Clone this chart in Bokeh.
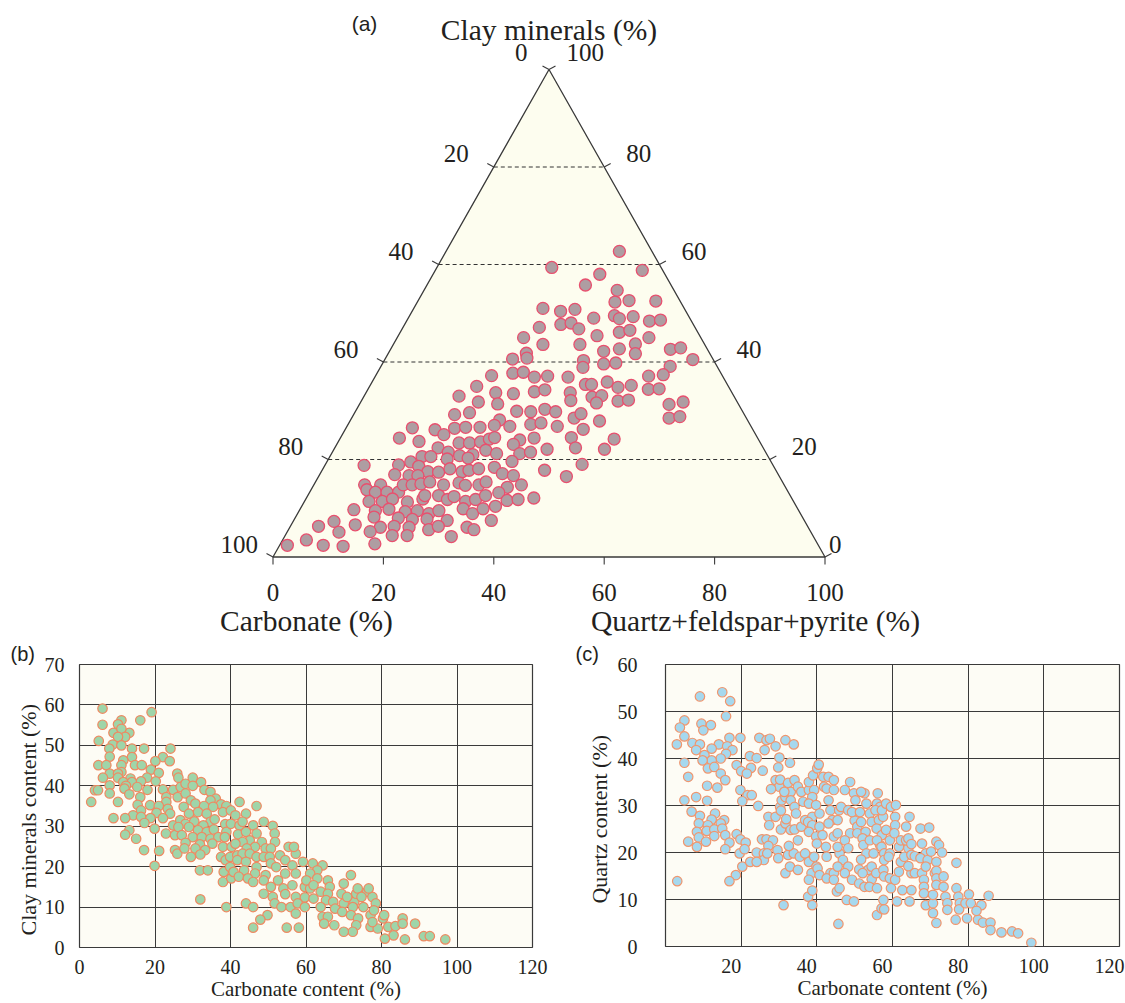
import numpy as np
from bokeh.plotting import figure
from bokeh.models import Range1d, FixedTicker, LinearAxis
from bokeh.layouts import column, row
from bokeh.embed import file_html
from bokeh.resources import INLINE
from bokeh.core.properties import value

SERIF = "Liberation Serif"
SANS = "Liberation Sans"
TXT = "#231f20"
GRID = "#3a3a3a"

# ---------------- (a) ternary data: clay % and quartz+feldspar+pyrite % ----------------
tern_clay_a = [62.7,59.4,58.8,58.0,55.8,54.7,52.3,52.6,52.5,51.0,50.4,50.8,49.0,49.5,48.9,49.3,48.4,48.6,47.1,47.7,
               48.0,46.8,45.4,46.1,46.5,45.0,45.0,43.6,43.6,43.7,41.7,42.7,42.2,41.8,40.8,40.6,40.3,42.6,42.9,40.5,
               39.1,37.4,37.1,39.6,39.8,38.9,37.2,37.7,37.9,36.9,37.1,36.9,35.9,35.4,35.4,35.2,34.8,34.4,34.5,35.0,
               33.7,33.5,33.9,34.3,33.7,32.1,32.8,33.1,31.6,32.0,32.2,31.3,31.8,28.5,28.8,33.0,31.8,31.4,29.2,29.6,
               28.1,29.9,29.8,30.3,29.8,28.5,29.4,27.9]
tern_qfp_a = [31.4,20.8,37.5,30.2,28.7,35.0,35.8,38.2,43.1,23.4,26.9,29.3,33.6,37.1,38.3,40.6,44.0,45.9,24.7,28.3,
              30.0,32.0,36.0,39.7,41.4,45.6,22.9,27.1,33.8,43.8,44.8,41.4,38.8,25.0,25.6,23.1,36.1,50.7,52.4,55.8,
              52.4,52.0,49.5,40.1,42.2,36.7,21.0,24.6,26.4,28.9,31.2,35.0,42.6,38.9,40.0,47.3,45.1,50.8,52.7,19.4,
              23.5,26.8,30.4,32.1,37.0,37.9,41.4,43.0,42.8,46.5,48.3,56.1,58.4,57.5,59.3,17.2,21.3,25.0,18.3,20.8,
              27.0,29.2,31.8,34.1,36.3,40.3,41.1,45.2]
tern_clay_b = [26.5,26.1,25.1,26.4,26.6,26.6,24.4,23.7,23.4,23.4,23.6,24.2,22.4,21.5,20.8,21.0,21.9,20.6,20.6,19.5,
               18.9,18.8,20.1,20.3,18.6,17.5,17.4,18.1,17.5,17.8,18.1,16.9,16.7,16.7,14.8,14.8,13.8,13.3,13.3,13.3,
               14.8,14.8,15.0,15.4,14.8,15.2,14.7,14.8,15.4,11.4,11.4,11.9,11.3,11.9,12.6,12.6,11.8,12.4,11.4,11.8,
               12.6,9.7,9.5,9.8,9.3,9.5,8.9,9.5,9.9,8.9,9.9,8.2,8.0,7.7,7.8,7.5,7.3,6.6,6.3,6.1,
               6.3,6.1,5.6,6.3,6.1,5.6,5.1,5.2,4.4,4.4,4.2,2.4,3.5,2.4,2.2,2.7]
tern_qfp_b = [12.0,16.3,18.4,19.7,21.6,24.2,10.7,14.6,22.0,23.9,25.8,27.1,18.7,21.0,23.4,25.7,27.6,16.7,18.3,15.2,
              13.3,7.1,21.5,25.2,17.1,19.3,21.3,23.0,25.5,26.6,28.2,13.6,16.3,17.9,12.1,9.2,10.1,11.9,14.0,16.1,
              16.2,17.8,19.3,20.7,23.5,26.1,27.5,29.9,30.9,11.7,14.1,15.7,18.7,21.2,21.2,23.7,25.7,26.6,29.2,30.8,
              32.2,9.8,13.8,16.1,19.3,21.4,23.8,25.3,29.5,31.7,33.1,14.2,18.7,21.4,24.0,27.8,7.4,11.6,5.1,16.4,
              18.8,21.6,25.4,26.8,32.1,33.6,9.4,15.0,19.4,22.1,30.2,1.4,4.3,7.9,11.6,17.1]
tern_clay_c = [27.0,26.8,27.2,27.5,26.8,24.5,26.2,24.2,24.5,24.0,24.4,23.1,21.2,21.2,21.5,22.1,22.4,22.1,19.6,19.0,
               17.8,16.5,18.4,17.1,16.7,14.8,14.3,13.2,11.6,11.8,12.1,10.4,7.5]
tern_qfp_c = [26.6,29.5,33.1,34.8,38.1,41.8,43.1,49.7,27.9,32.7,35.1,32.0,29.9,34.1,35.9,38.6,43.6,49.0,33.5,46.5,
              40.3,44.9,30.9,33.0,35.2,37.6,35.3,34.3,36.6,38.5,41.2,35.1,35.8]

tern_levels = [0, 20, 40, 60, 80, 100]
tern_left_labels = ["100", "80", "60", "40", "20", "0"]
tern_right_labels = ["0", "20", "40", "60", "80", "100"]
tern_bottom_ticks = [0, 20, 40, 60, 80, 100]
tern_bottom_labels = ["0", "20", "40", "60", "80", "100"]

# ---------------- (b) carbonate vs clay ----------------
carb_b = [6.1,19.1,6.1,11.1,10.2,16.1,13.2,9.0,11.1,12.1,10.2,5.1,8.8,11.1,7.9,13.9,17.1,24.1,8.0,13.9,
          22.1,11.6,20.1,23.9,5.0,7.1,11.1,14.7,16.5,18.9,11.1,8.0,10.2,21.0,6.2,10.2,13.5,17.9,20.2,11.6,
          13.9,16.3,8.0,12.3,15.3,4.1,4.9,11.9,18.0,22.1,24.8,8.0,13.2,16.1,23.0,3.1,10.2,23.0,15.4,18.7,
          21.0,23.4,16.3,20.4,24.0,14.2,16.3,18.8,9.0,12.1,22.1,17.2,19.9,24.8,13.2,12.1,22.9,15.0,25.3,17.1,
          21.1,25.3,25.9,19.9,
          25.9,26.2,26.8,28.1,30.0,32.2,30.0,26.0,28.1,33.1,34.7,29.5,30.7,36.1,34.7,27.6,33.0,37.5,38.9,35.4,
          29.0,31.4,33.7,38.0,42.4,40.1,26.7,28.1,30.4,34.7,35.8,32.8,38.6,41.3,26.2,29.0,31.4,33.7,35.6,38.9,
          40.1,42.4,27.1,30.0,32.4,34.7,36.8,38.5,42.0,28.1,31.9,35.2,38.0,40.3,27.8,30.7,33.3,37.5,38.7,29.5,
          32.0,39.9,41.8,38.2,39.9,31.9,34.0,38.0,40.2,32.0,38.9,
          46.9,44.1,43.2,46.0,48.8,51.2,44.1,46.9,51.7,48.3,45.1,43.2,51.8,41.3,46.5,49.3,44.3,50.7,43.2,45.1,
          46.9,48.8,50.4,53.1,55.4,57.3,54.5,56.8,41.8,44.1,46.9,50.7,52.1,56.4,59.2,40.8,43.6,46.5,49.3,54.5,
          57.3,42.2,44.6,46.0,48.8,52.6,50.7,54.0,56.4,59.7,48.8,51.2,54.5,57.3,59.7,61.1,51.7,53.5,55.9,57.8,
          59.7,44.1,46.0,49.8,47.9,46.0,54.9,58.1,57.3,
          61.8,64.4,63.0,61.1,63.0,65.8,66.3,60.1,62.0,63.9,65.8,62.0,65.3,67.2,63.9,67.7,64.4,65.8,64.8,67.5,
          69.4,70.0,71.9,70.0,72.8,70.9,73.3,73.7,76.2,74.7,77.6,76.6,78.5,75.2,72.4,69.6,71.9,73.8,77.1,78.0,
          73.3,77.1,79.0,72.4,70.0,77.6,80.4,80.7,81.8,83.7,85.6,85.6,88.9,83.2,80.9,86.2,91.2,92.8,96.9]
clay_b = [59.1,58.2,55.1,56.2,55.2,56.2,53.1,53.1,54.1,52.1,52.1,51.1,50.2,50.0,49.2,49.2,49.2,49.2,47.2,47.1,
          47.1,46.3,46.1,46.1,45.1,45.1,45.1,45.1,45.1,44.0,43.4,43.0,43.0,43.2,42.0,42.0,41.8,42.0,41.1,40.9,
          40.9,41.1,40.1,40.0,39.7,38.9,38.9,39.3,39.0,39.1,39.0,38.1,37.9,37.2,37.2,36.0,36.0,36.0,35.3,35.2,
          35.0,34.3,33.9,33.3,33.1,32.7,32.3,32.0,32.0,32.0,32.0,30.8,29.4,30.2,29.0,27.9,28.2,26.9,27.8,24.1,
          23.9,24.1,23.2,20.2,
          43.0,42.0,39.7,40.5,42.0,40.9,40.0,37.2,38.1,39.0,38.5,36.4,35.6,36.8,36.4,34.8,35.0,35.4,35.0,34.8,
          33.1,33.5,33.1,33.5,36.0,33.9,31.5,30.6,31.2,31.1,31.7,30.2,30.5,32.7,29.8,29.8,29.0,28.6,29.2,28.6,
          30.6,30.2,27.8,27.3,27.3,26.9,27.3,27.3,28.0,25.9,25.5,25.7,24.9,24.9,24.5,24.5,24.1,22.4,21.6,22.4,
          23.0,22.4,22.8,18.7,19.9,19.1,19.1,16.2,17.1,11.9,10.0,
          35.0,33.1,31.1,30.2,31.1,30.1,28.6,28.2,28.2,26.1,26.5,26.1,26.1,25.7,24.9,24.5,24.5,24.5,23.2,23.2,
          22.4,22.4,22.4,22.8,24.9,23.2,21.6,24.9,21.6,21.2,19.9,20.8,19.9,20.3,21.2,18.7,19.1,18.3,17.9,18.3,
          18.3,17.5,17.1,16.2,16.6,16.6,15.0,14.6,15.4,15.0,13.3,12.5,13.2,12.5,12.4,14.6,10.9,10.0,10.0,10.9,
          10.0,10.9,10.0,8.0,6.9,4.9,4.9,4.9,8.4,
          20.8,20.3,19.1,18.3,17.1,16.6,15.0,16.6,15.4,13.8,13.3,12.1,11.7,11.3,10.0,9.6,7.6,7.6,5.9,5.5,
          13.3,15.8,17.9,10.9,11.3,12.5,13.3,14.6,13.8,12.5,12.5,14.6,10.9,10.0,10.0,8.8,8.0,7.2,8.0,9.2,
          5.5,5.1,4.7,3.9,3.9,6.3,7.2,8.0,5.1,5.3,7.2,5.9,5.9,3.0,2.2,2.0,2.8,2.8,2.0]
b_xticks = [0, 20, 40, 60, 80, 100, 120]
b_yticks = [0, 10, 20, 30, 40, 50, 60, 70]

# ---------------- (c) carbonate vs quartz ----------------
carb_c = [15.0,9.1,17.1,16.0,5.0,3.8,9.5,12.0,10.0,5.0,16.9,19.8,24.8,26.7,27.6,31.7,33.9,29.1,14.1,3.0,
          7.1,9.1,16.3,17.7,12.2,8.1,16.0,26.2,22.3,24.1,14.6,10.3,12.2,5.0,9.8,30.1,32.9,18.8,20.0,22.6,
          11.2,12.9,14.6,21.5,25.7,29.8,6.0,15.8,29.1,11.0,13.7,19.8,21.7,30.1,30.3,27.9,22.8,8.1,5.0,11.0,
          20.3,24.5,6.9,13.1,9.1,15.5,12.2,8.8,11.2,14.6,8.3,10.9,12.9,15.0,8.8,15.8,12.9,10.7,6.0,8.3,
          18.8,19.8,21.2,16.9,15.8,19.6,20.9,18.6,20.3,16.9,3.1,
          22.4,24.1,25.5,26.7,28.4,27.2,26.0,26.0,24.1,26.9,29.6,29.8,27.2,27.4,29.1,30.3,30.7,31.7,30.5,30.5,
          31.7,32.4,33.1,31.4,34.1,35.0,33.1,34.1,34.5,31.9,33.1,34.1,32.4,33.9,32.6,31.7,32.9,31.2,35.0,35.5,
          37.9,36.9,35.0,35.9,36.9,35.9,37.9,37.9,39.0,40.1,40.5,41.7,41.9,39.3,36.4,38.8,37.9,39.8,38.8,40.7,
          37.7,38.8,37.9,39.8,40.0,40.7,41.5,42.4,37.9,39.3,39.9,38.6,37.9,40.2,40.7,37.7,38.8,38.8,42.6,43.6,
          42.6,44.5,44.5,45.3,46.0,45.7,
          43.1,44.5,42.6,43.1,44.5,43.6,44.1,43.1,44.5,45.5,45.9,45.5,47.4,46.4,48.3,48.8,47.4,48.3,46.0,45.5,
          46.9,48.3,45.5,47.4,49.3,51.2,49.8,48.8,50.2,50.0,50.7,50.7,49.3,51.4,51.7,52.6,51.7,53.1,54.0,54.5,
          52.9,52.1,52.3,54.0,53.1,55.0,51.7,51.2,53.6,52.1,54.5,52.6,54.5,53.9,47.9,49.8,56.1,55.9,56.7,55.5,
          56.4,55.8,57.2,56.7,55.9,58.3,57.5,57.2,58.3,55.9,55.7,57.6,57.1,57.8,57.8,57.8,55.9,57.1,57.8,57.6,
          59.3,59.0,59.3,59.6,60.9,60.7,60.7,60.5,59.3,59.6,61.2,60.7,61.7,62.2,63.1,61.7,62.2,64.2,63.6,62.6,
          65.0,64.2,65.0,64.5,63.6,64.2,65.0,65.9,65.9,65.0,64.5,
          67.4,69.7,67.8,68.8,67.4,69.3,67.8,68.8,68.3,68.3,68.3,68.8,70.7,71.2,70.2,71.6,72.3,71.6,73.1,71.6,
          71.6,71.6,70.7,70.7,71.6,73.5,73.5,74.0,74.5,74.5,76.9,76.9,77.4,77.8,76.7,77.6,79.3,80.2,80.7,79.7,
          82.6,83.5,82.2,83.9,85.9,85.4,85.9,88.8,91.6,93.2,96.7]
qtz_c = [54.1,53.2,52.2,49.0,48.1,46.6,47.4,47.1,46.0,44.7,44.4,44.4,44.4,43.9,44.2,43.9,43.0,42.6,43.0,43.0,
         43.3,43.0,42.6,41.8,42.1,41.8,41.0,41.8,40.5,40.1,40.0,40.7,39.6,39.1,39.6,40.2,39.1,38.6,37.3,38.0,
         37.9,38.2,36.8,36.8,37.4,38.1,36.1,35.4,35.4,34.2,33.8,33.3,32.2,34.0,35.5,33.5,32.2,31.8,31.1,31.0,
         30.9,29.9,28.7,28.3,27.8,26.9,27.0,26.2,25.8,26.2,24.4,24.6,24.9,25.1,23.2,23.7,23.5,22.3,22.3,21.2,
         23.9,22.8,22.1,22.1,20.7,19.8,20.7,15.2,17.0,13.9,13.9,
         18.0,20.0,22.8,22.8,22.6,21.4,19.8,18.4,18.0,19.8,20.5,18.8,27.6,25.8,27.6,29.7,31.1,31.8,28.9,24.9,
         26.2,34.8,32.9,32.9,35.4,34.0,31.1,29.7,28.3,27.1,24.8,24.9,19.5,19.8,21.4,15.6,17.0,8.8,16.3,19.1,
         19.1,19.8,22.6,25.5,26.9,32.9,33.3,35.0,36.4,37.9,38.7,36.1,34.0,33.3,30.8,31.8,30.4,30.1,27.6,28.3,
         26.5,25.8,24.4,23.4,21.9,25.5,23.7,21.2,18.0,19.1,17.0,15.6,14.2,16.6,15.2,10.6,11.9,8.8,19.1,15.6,
         14.5,15.6,14.2,11.7,12.4,4.8,
         36.1,35.4,33.6,31.1,33.3,29.0,26.9,26.2,23.4,24.1,29.0,26.9,33.3,29.7,29.0,24.1,22.6,20.9,19.8,21.2,
         18.4,17.0,17.0,15.6,14.2,13.4,32.6,35.0,31.1,26.8,25.5,24.1,28.6,28.6,26.5,32.6,32.9,30.4,28.3,26.5,
         24.4,23.0,21.6,22.6,19.8,19.8,18.5,16.4,16.3,15.6,17.0,12.7,14.3,12.7,9.9,9.6,32.6,30.4,29.7,29.0,
         26.9,25.1,23.7,21.6,22.6,24.8,27.6,29.0,30.4,12.4,15.6,16.3,21.2,19.8,18.4,14.9,6.7,8.1,7.9,9.9,
         19.8,19.1,22.6,29.7,30.1,27.6,25.8,24.1,14.5,12.4,9.6,14.2,15.9,18.0,19.1,21.2,22.6,20.9,22.6,12.0,
         15.6,17.1,19.5,27.6,25.5,23.0,21.8,19.2,15.6,12.0,9.6,
         25.1,25.3,21.9,19.8,18.8,18.4,15.6,17.0,14.2,12.7,11.3,8.8,9.2,15.6,20.2,22.3,21.6,18.0,20.0,16.1,
         14.5,13.1,11.0,7.1,5.0,14.9,12.7,10.6,9.2,7.8,17.8,12.4,10.6,9.2,5.7,7.9,9.2,11.1,9.2,6.0,
         5.7,8.8,7.6,5.1,5.1,10.8,3.5,3.0,3.2,2.8,0.8]
c_xticks = [20, 40, 60, 80, 100, 120]
c_yticks = [0, 10, 20, 30, 40, 50, 60]

tern_clay = tern_clay_a + tern_clay_b + tern_clay_c
tern_qfp = tern_qfp_a + tern_qfp_b + tern_qfp_c
n = min(len(tern_clay), len(tern_qfp))
tern_clay, tern_qfp = tern_clay[:n], tern_qfp[:n]
n = min(len(carb_b), len(clay_b)); carb_b, clay_b = carb_b[:n], clay_b[:n]
n = min(len(carb_c), len(qtz_c)); carb_c, qtz_c = carb_c[:n], qtz_c[:n]


def tern_xy(clay, qfp):
    clay = np.asarray(clay, dtype=float)
    qfp = np.asarray(qfp, dtype=float)
    return qfp + clay / 2.0, clay


# ---------------- figure (a) ----------------
PXX, PXY = 5.52, 4.875      # pixels per percent along base / height
OX, OY = 272.5, 556.5       # pixel position of the carbonate corner
W1, H1 = 1125, 640
p1 = figure(width=W1, height=H1,
            x_range=Range1d(-OX / PXX, (W1 - OX) / PXX),
            y_range=Range1d((OY - H1) / PXY, OY / PXY),
            x_axis_location=None, y_axis_location=None,
            toolbar_location=None, output_backend="svg", min_border=0,
            outline_line_color=None, background_fill_color="white", border_fill_color="white")
p1.grid.visible = False

vx, vy = tern_xy([0, 0, 100], [0, 100, 0])
p1.patch(vx, vy, fill_color="#FDFDEF", line_color="#3a3a3a", line_width=1.3)

inner = np.array(tern_levels[1:-1], dtype=float)
lx, ly = tern_xy(inner, np.zeros_like(inner))
rx, ry = tern_xy(inner, 100 - inner)
p1.segment(x0=lx, y0=ly, x1=rx, y1=ry, line_color="#333333", line_width=1, line_dash="4 3")

lev = np.array(tern_levels, dtype=float)
TX, TY = 6.5 / PXX, 3.6 / PXY
elx, ely = tern_xy(lev, np.zeros_like(lev))
erx, ery = tern_xy(lev, 100 - lev)
p1.segment(x0=elx, y0=ely, x1=elx - TX, y1=ely + TY, line_color="#3a3a3a", line_width=1.1)
p1.segment(x0=erx, y0=ery, x1=erx + TX, y1=ery + TY, line_color="#3a3a3a", line_width=1.1)
bt = np.array(tern_bottom_ticks, dtype=float)
p1.segment(x0=bt, y0=np.zeros_like(bt), x1=bt, y1=np.full_like(bt, -7.5 / PXY),
           line_color="#3a3a3a", line_width=1.1)

tx, ty = tern_xy(tern_clay, tern_qfp)
p1.scatter(tx, ty, size=12, fill_color="#AE9DA2", line_color="#E8506E", line_width=1.3)

# label offsets (pixels) for each level: bottom corner, 20..80, apex
left_dx = np.array([15, 25, 25, 25, 25, 21.5])
right_dx = np.array([4, 22, 22, 22, 22, 17.5])
lab_dy = np.array([13, 13, 13, 13, 14, 17])

NUM_FS = value("25px")
p1.text(x=elx - left_dx / PXX, y=ely + lab_dy / PXY, text=tern_left_labels, text_font=value(SERIF),
        text_font_size=NUM_FS, text_align="right", text_baseline="middle", text_color=TXT)
p1.text(x=erx + right_dx / PXX, y=ery + lab_dy / PXY, text=tern_right_labels, text_font=value(SERIF),
        text_font_size=NUM_FS, text_align="left", text_baseline="middle", text_color=TXT)
p1.text(x=bt, y=np.full_like(bt, -35 / PXY), text=tern_bottom_labels, text_font=value(SERIF),
        text_font_size=NUM_FS, text_align="center", text_baseline="middle", text_color=TXT)
p1.text(x=[(306 - OX) / PXX, (755 - OX) / PXX], y=[-64 / PXY, -64 / PXY],
        text=["Carbonate (%)", "Quartz+feldspar+pyrite (%)"], text_font=value(SERIF),
        text_font_size=value("29.5px"), text_align="center", text_baseline="middle", text_color=TXT)
p1.text(x=[50], y=[(OY - 29) / PXY], text=["Clay minerals (%)"], text_font=value(SERIF),
        text_font_size=value("29.5px"), text_align="center", text_baseline="middle", text_color=TXT)
p1.text(x=[(364 - OX) / PXX], y=[(OY - 23) / PXY], text=["(a)"], text_font=value(SANS),
        text_font_size=value("21px"), text_align="center", text_baseline="middle", text_color=TXT)


def style_axis(ax, ticks, label, standoff, label_standoff):
    ax.ticker = FixedTicker(ticks=ticks)
    ax.axis_label = label
    ax.axis_label_text_font = SERIF
    ax.axis_label_text_font_size = "21px"
    ax.axis_label_text_font_style = "normal"
    ax.axis_label_text_color = TXT
    ax.major_label_text_font = SERIF
    ax.major_label_text_font_size = "20px"
    ax.major_label_text_color = TXT
    ax.major_tick_out = 0
    ax.major_tick_in = 0
    ax.minor_tick_out = 0
    ax.minor_tick_in = 0
    ax.axis_line_color = None
    ax.major_label_standoff = standoff
    ax.axis_label_standoff = label_standoff


def panel_title(p, text, offset):
    p.title.text = text
    p.title.text_font = SANS
    p.title.text_font_size = "20px"
    p.title.text_font_style = "normal"
    p.title.text_color = TXT
    p.title.align = "left"
    p.title.offset = offset
    p.title.standoff = 0


BG = "#FDFCF5"
PAD = "\u00a0" * 5

# ---------------- figure (b) ----------------
p2 = figure(frame_width=453, frame_height=283, x_range=Range1d(0, 120), y_range=Range1d(0, 70),
            min_border_left=79, min_border_right=30, min_border_top=23, min_border_bottom=57,
            toolbar_location=None, output_backend="svg", background_fill_color=BG,
            border_fill_color="white", outline_line_color=GRID, outline_line_width=1.2)
style_axis(p2.xaxis[0], b_xticks, "Carbonate content (%)", 12, 0)
style_axis(p2.yaxis[0], b_yticks, "Clay minerals content (%)" + PAD, 15, 1)
p2.yaxis[0].axis_label_text_font_size = "22px"
p2.xgrid.ticker = FixedTicker(ticks=b_xticks)
p2.ygrid.ticker = FixedTicker(ticks=b_yticks)
p2.grid.grid_line_color = GRID
p2.grid.grid_line_width = 1
p2.scatter(carb_b, clay_b, size=9.5, fill_color="#9FD5A9", line_color="#EE8A62", line_width=1.2)
panel_title(p2, "(b)", -69)

# ---------------- figure (c) ----------------
p3 = figure(frame_width=454, frame_height=282, x_range=Range1d(0, 120), y_range=Range1d(0, 60),
            x_axis_location=None,
            min_border_left=103, min_border_right=6, min_border_top=24, min_border_bottom=57,
            toolbar_location=None, output_backend="svg", background_fill_color=BG,
            border_fill_color="white", outline_line_color=GRID, outline_line_width=1.2)
p3.extra_x_ranges = {"lab": Range1d(2.64, 122.64)}
cax = LinearAxis(x_range_name="lab")
style_axis(cax, c_xticks, "Carbonate content (%)", 12, 0)
p3.add_layout(cax, "below")
style_axis(p3.yaxis[0], c_yticks, "Quartz content (%)" + PAD, 28, 3)
p3.yaxis[0].axis_label_text_font_size = "22px"
p3.xgrid.ticker = FixedTicker(ticks=c_xticks)
p3.ygrid.ticker = FixedTicker(ticks=c_yticks)
p3.grid.grid_line_color = GRID
p3.grid.grid_line_width = 1
p3.scatter(carb_c, qtz_c, size=9.5, fill_color="#A6D8EE", line_color="#F0966E", line_width=1.2)
panel_title(p3, "(c)", -90)

layout = column(p1, row(p2, p3))
with open("out.html", "w") as f:
    f.write(file_html(layout, INLINE, "Mineral composition"))
